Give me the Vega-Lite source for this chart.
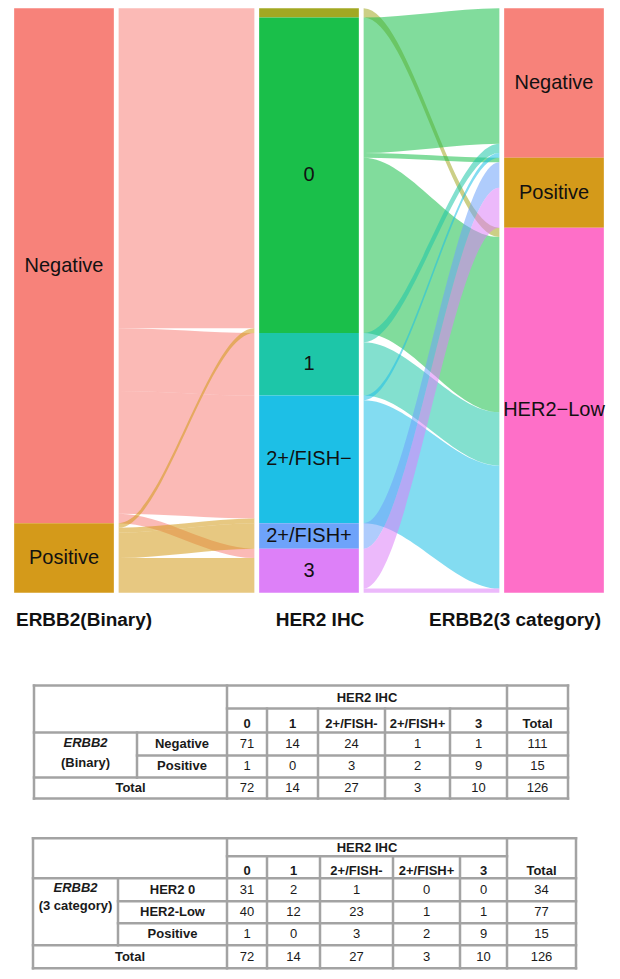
{
  "$schema": "https://vega.github.io/schema/vega-lite/v6.json",
  "background": "white",
  "padding": {"left": 10, "top": 8.3, "right": 0, "bottom": 0},
  "autosize": {"type": "pad"},
  "bounds": "flush",
  "spacing": 0,
  "config": {"view": {"stroke": null}, "font": "Liberation Sans"},
  "datasets": {
    "strata": [
      {"axis": 1, "cat": "Negative", "y0": 0, "y1": 111},
      {"axis": 1, "cat": "Positive", "y0": 111, "y1": 126},
      {"axis": 2, "cat": "0*", "y0": 0, "y1": 2},
      {"axis": 2, "cat": "0", "y0": 2, "y1": 70},
      {"axis": 2, "cat": "1", "y0": 70, "y1": 83.5},
      {"axis": 2, "cat": "2+/FISH−", "y0": 83.5, "y1": 111},
      {"axis": 2, "cat": "2+/FISH+", "y0": 111, "y1": 116.5},
      {"axis": 2, "cat": "3", "y0": 116.5, "y1": 126},
      {"axis": 3, "cat": "Negative", "y0": 0, "y1": 32.2},
      {"axis": 3, "cat": "Positive", "y0": 32.2, "y1": 47.3},
      {"axis": 3, "cat": "HER2−Low", "y0": 47.3, "y1": 126}
    ],
    "flows": [
      {"id": "f1", "cat": "Negative", "x": 1.223, "lo": 0, "hi": 69},
      {"id": "f1", "cat": "Negative", "x": 1.2235, "lo": 0, "hi": 69},
      {"id": "f1", "cat": "Negative", "x": 1.7765, "lo": 0, "hi": 69},
      {"id": "f1", "cat": "Negative", "x": 1.777, "lo": 0, "hi": 69},
      {"id": "f2", "cat": "Negative", "x": 1.223, "lo": 69, "hi": 82.5},
      {"id": "f2", "cat": "Negative", "x": 1.2235, "lo": 69, "hi": 82.5},
      {"id": "f2", "cat": "Negative", "x": 1.7765, "lo": 70, "hi": 83.5},
      {"id": "f2", "cat": "Negative", "x": 1.777, "lo": 70, "hi": 83.5},
      {"id": "f3", "cat": "Negative", "x": 1.223, "lo": 82.5, "hi": 109},
      {"id": "f3", "cat": "Negative", "x": 1.2235, "lo": 82.5, "hi": 109},
      {"id": "f3", "cat": "Negative", "x": 1.7765, "lo": 83.5, "hi": 110},
      {"id": "f3", "cat": "Negative", "x": 1.777, "lo": 83.5, "hi": 110},
      {"id": "f5", "cat": "Negative", "x": 1.223, "lo": 109, "hi": 111},
      {"id": "f5", "cat": "Negative", "x": 1.2235, "lo": 109, "hi": 111},
      {"id": "f5", "cat": "Negative", "x": 1.7765, "lo": 116.5, "hi": 118.5},
      {"id": "f5", "cat": "Negative", "x": 1.777, "lo": 116.5, "hi": 118.5},
      {"id": "f6", "cat": "Positive", "x": 1.223, "lo": 111, "hi": 112},
      {"id": "f6", "cat": "Positive", "x": 1.2235, "lo": 111, "hi": 112},
      {"id": "f6", "cat": "Positive", "x": 1.7765, "lo": 69, "hi": 70},
      {"id": "f6", "cat": "Positive", "x": 1.777, "lo": 69, "hi": 70},
      {"id": "f7", "cat": "Positive", "x": 1.223, "lo": 112, "hi": 113},
      {"id": "f7", "cat": "Positive", "x": 1.2235, "lo": 112, "hi": 113},
      {"id": "f7", "cat": "Positive", "x": 1.7765, "lo": 110, "hi": 111},
      {"id": "f7", "cat": "Positive", "x": 1.777, "lo": 110, "hi": 111},
      {"id": "f8", "cat": "Positive", "x": 1.223, "lo": 113, "hi": 118.5},
      {"id": "f8", "cat": "Positive", "x": 1.2235, "lo": 113, "hi": 118.5},
      {"id": "f8", "cat": "Positive", "x": 1.7765, "lo": 111, "hi": 116.5},
      {"id": "f8", "cat": "Positive", "x": 1.777, "lo": 111, "hi": 116.5},
      {"id": "f9", "cat": "Positive", "x": 1.223, "lo": 118.5, "hi": 126},
      {"id": "f9", "cat": "Positive", "x": 1.2235, "lo": 118.5, "hi": 126},
      {"id": "f9", "cat": "Positive", "x": 1.7765, "lo": 118.5, "hi": 126},
      {"id": "f9", "cat": "Positive", "x": 1.777, "lo": 118.5, "hi": 126},
      {"id": "g1", "cat": "0*", "x": 2.223, "lo": 0, "hi": 2},
      {"id": "g1", "cat": "0*", "x": 2.2235, "lo": 0, "hi": 2},
      {"id": "g1", "cat": "0*", "x": 2.7765, "lo": 47.3, "hi": 49.3},
      {"id": "g1", "cat": "0*", "x": 2.777, "lo": 47.3, "hi": 49.3},
      {"id": "g2", "cat": "0", "x": 2.223, "lo": 2, "hi": 31.2},
      {"id": "g2", "cat": "0", "x": 2.2235, "lo": 2, "hi": 31.2},
      {"id": "g2", "cat": "0", "x": 2.7765, "lo": 0, "hi": 29.2},
      {"id": "g2", "cat": "0", "x": 2.777, "lo": 0, "hi": 29.2},
      {"id": "g3", "cat": "0", "x": 2.223, "lo": 31.2, "hi": 32.2},
      {"id": "g3", "cat": "0", "x": 2.2235, "lo": 31.2, "hi": 32.2},
      {"id": "g3", "cat": "0", "x": 2.7765, "lo": 32.2, "hi": 33.2},
      {"id": "g3", "cat": "0", "x": 2.777, "lo": 32.2, "hi": 33.2},
      {"id": "g4", "cat": "0", "x": 2.223, "lo": 32.2, "hi": 70},
      {"id": "g4", "cat": "0", "x": 2.2235, "lo": 32.2, "hi": 70},
      {"id": "g4", "cat": "0", "x": 2.7765, "lo": 49.3, "hi": 87.1},
      {"id": "g4", "cat": "0", "x": 2.777, "lo": 49.3, "hi": 87.1},
      {"id": "g5", "cat": "1", "x": 2.223, "lo": 70, "hi": 72},
      {"id": "g5", "cat": "1", "x": 2.2235, "lo": 70, "hi": 72},
      {"id": "g5", "cat": "1", "x": 2.7765, "lo": 29.2, "hi": 31.2},
      {"id": "g5", "cat": "1", "x": 2.777, "lo": 29.2, "hi": 31.2},
      {"id": "g6", "cat": "1", "x": 2.223, "lo": 72, "hi": 83.5},
      {"id": "g6", "cat": "1", "x": 2.2235, "lo": 72, "hi": 83.5},
      {"id": "g6", "cat": "1", "x": 2.7765, "lo": 87.1, "hi": 98.6},
      {"id": "g6", "cat": "1", "x": 2.777, "lo": 87.1, "hi": 98.6},
      {"id": "g7", "cat": "2+/FISH−", "x": 2.223, "lo": 83.5, "hi": 84.5},
      {"id": "g7", "cat": "2+/FISH−", "x": 2.2235, "lo": 83.5, "hi": 84.5},
      {"id": "g7", "cat": "2+/FISH−", "x": 2.7765, "lo": 31.2, "hi": 32.2},
      {"id": "g7", "cat": "2+/FISH−", "x": 2.777, "lo": 31.2, "hi": 32.2},
      {"id": "g8", "cat": "2+/FISH−", "x": 2.223, "lo": 84.5, "hi": 111},
      {"id": "g8", "cat": "2+/FISH−", "x": 2.2235, "lo": 84.5, "hi": 111},
      {"id": "g8", "cat": "2+/FISH−", "x": 2.7765, "lo": 98.6, "hi": 125.1},
      {"id": "g8", "cat": "2+/FISH−", "x": 2.777, "lo": 98.6, "hi": 125.1},
      {"id": "g9", "cat": "2+/FISH+", "x": 2.223, "lo": 111, "hi": 116.5},
      {"id": "g9", "cat": "2+/FISH+", "x": 2.2235, "lo": 111, "hi": 116.5},
      {"id": "g9", "cat": "2+/FISH+", "x": 2.7765, "lo": 33.2, "hi": 38.7},
      {"id": "g9", "cat": "2+/FISH+", "x": 2.777, "lo": 33.2, "hi": 38.7},
      {"id": "g10", "cat": "3", "x": 2.223, "lo": 116.5, "hi": 125.1},
      {"id": "g10", "cat": "3", "x": 2.2235, "lo": 116.5, "hi": 125.1},
      {"id": "g10", "cat": "3", "x": 2.7765, "lo": 38.7, "hi": 47.3},
      {"id": "g10", "cat": "3", "x": 2.777, "lo": 38.7, "hi": 47.3},
      {"id": "g11", "cat": "3", "x": 2.223, "lo": 125.1, "hi": 126},
      {"id": "g11", "cat": "3", "x": 2.2235, "lo": 125.1, "hi": 126},
      {"id": "g11", "cat": "3", "x": 2.7765, "lo": 125.1, "hi": 126},
      {"id": "g11", "cat": "3", "x": 2.777, "lo": 125.1, "hi": 126}
    ],
    "axislabels": [
      {"axis": 1, "name": "ERBB2(Binary)"},
      {"axis": 2, "name": "HER2 IHC"},
      {"axis": 3, "name": "ERBB2(3 category)"}
    ],
    "t1grid": [
      {"x": 0, "x2": 534, "y": 0, "y2": 0},
      {"x": 0, "x2": 534, "y": 113, "y2": 113},
      {"x": 0, "x2": 0, "y": 0, "y2": 113},
      {"x": 534, "x2": 534, "y": 0, "y2": 113},
      {"x": 193, "x2": 193, "y": 0, "y2": 113},
      {"x": 103, "x2": 103, "y": 47, "y2": 92},
      {"x": 233, "x2": 233, "y": 23, "y2": 113},
      {"x": 284, "x2": 284, "y": 23, "y2": 113},
      {"x": 351, "x2": 351, "y": 23, "y2": 113},
      {"x": 416, "x2": 416, "y": 23, "y2": 113},
      {"x": 473, "x2": 473, "y": 0, "y2": 113},
      {"x": 193, "x2": 534, "y": 23, "y2": 23},
      {"x": 0, "x2": 534, "y": 47, "y2": 47},
      {"x": 103, "x2": 534, "y": 70, "y2": 70},
      {"x": 0, "x2": 534, "y": 92, "y2": 92}
    ],
    "t1cols": [
      {"c": "A", "xc": 51.5}, {"c": "B", "xc": 148}, {"c": "AB", "xc": 96.5},
      {"c": "0", "xc": 213}, {"c": "1", "xc": 258.5}, {"c": "F-", "xc": 317.5},
      {"c": "F+", "xc": 383.5}, {"c": "3", "xc": 444.5}, {"c": "T", "xc": 503.5},
      {"c": "IHC", "xc": 333}
    ],
    "t1rows": [
      {"r": "h1", "yc": 12}, {"r": "h2", "yc": 38.5}, {"r": "Negative", "yc": 58},
      {"r": "Positive", "yc": 80}, {"r": "Total", "yc": 102.5}, {"r": "g1", "yc": 57}, {"r": "g2", "yc": 77}
    ],
    "t1cells": [
      {"r": "h1", "c": "IHC", "v": "HER2 IHC", "k": "hdr"},
      {"r": "h2", "c": "0", "v": "0", "k": "hdr"},
      {"r": "h2", "c": "1", "v": "1", "k": "hdr"},
      {"r": "h2", "c": "F-", "v": "2+/FISH-", "k": "hdr"},
      {"r": "h2", "c": "F+", "v": "2+/FISH+", "k": "hdr"},
      {"r": "h2", "c": "3", "v": "3", "k": "hdr"},
      {"r": "h2", "c": "T", "v": "Total", "k": "hdr"},
      {"r": "g1", "c": "A", "v": "ERBB2", "k": "gene"},
      {"r": "g2", "c": "A", "v": "(Binary)", "k": "hdr"},
      {"r": "Negative", "c": "B", "v": "Negative", "k": "hdr"},
      {"r": "Positive", "c": "B", "v": "Positive", "k": "hdr"},
      {"r": "Total", "c": "AB", "v": "Total", "k": "hdr"},
      {"r": "Negative", "c": "0", "v": "71", "k": "val"},
      {"r": "Negative", "c": "1", "v": "14", "k": "val"},
      {"r": "Negative", "c": "F-", "v": "24", "k": "val"},
      {"r": "Negative", "c": "F+", "v": "1", "k": "val"},
      {"r": "Negative", "c": "3", "v": "1", "k": "val"},
      {"r": "Negative", "c": "T", "v": "111", "k": "val"},
      {"r": "Positive", "c": "0", "v": "1", "k": "val"},
      {"r": "Positive", "c": "1", "v": "0", "k": "val"},
      {"r": "Positive", "c": "F-", "v": "3", "k": "val"},
      {"r": "Positive", "c": "F+", "v": "2", "k": "val"},
      {"r": "Positive", "c": "3", "v": "9", "k": "val"},
      {"r": "Positive", "c": "T", "v": "15", "k": "val"},
      {"r": "Total", "c": "0", "v": "72", "k": "val"},
      {"r": "Total", "c": "1", "v": "14", "k": "val"},
      {"r": "Total", "c": "F-", "v": "27", "k": "val"},
      {"r": "Total", "c": "F+", "v": "3", "k": "val"},
      {"r": "Total", "c": "3", "v": "10", "k": "val"},
      {"r": "Total", "c": "T", "v": "126", "k": "val"}
    ],
    "t2grid": [
      {"x": 0, "x2": 543, "y": 0, "y2": 0},
      {"x": 0, "x2": 543, "y": 130, "y2": 130},
      {"x": 0, "x2": 0, "y": 0, "y2": 130},
      {"x": 543, "x2": 543, "y": 0, "y2": 130},
      {"x": 194, "x2": 194, "y": 0, "y2": 130},
      {"x": 85, "x2": 85, "y": 40, "y2": 107},
      {"x": 234, "x2": 234, "y": 18, "y2": 130},
      {"x": 287, "x2": 287, "y": 18, "y2": 130},
      {"x": 360, "x2": 360, "y": 18, "y2": 130},
      {"x": 427, "x2": 427, "y": 18, "y2": 130},
      {"x": 474, "x2": 474, "y": 0, "y2": 130},
      {"x": 194, "x2": 474, "y": 18, "y2": 18},
      {"x": 0, "x2": 543, "y": 40, "y2": 40},
      {"x": 85, "x2": 543, "y": 63, "y2": 63},
      {"x": 85, "x2": 543, "y": 85, "y2": 85},
      {"x": 0, "x2": 543, "y": 107, "y2": 107}
    ],
    "t2cols": [
      {"c": "A", "xc": 42.5}, {"c": "B", "xc": 139.5}, {"c": "AB", "xc": 97},
      {"c": "0", "xc": 214}, {"c": "1", "xc": 260.5}, {"c": "F-", "xc": 323.5},
      {"c": "F+", "xc": 393.5}, {"c": "3", "xc": 450.5}, {"c": "T", "xc": 508.5},
      {"c": "IHC", "xc": 334}
    ],
    "t2rows": [
      {"r": "h1", "yc": 10}, {"r": "h2", "yc": 33}, {"r": "HER2 0", "yc": 51.5},
      {"r": "HER2-Low", "yc": 74}, {"r": "Positive", "yc": 96}, {"r": "Total", "yc": 118.5},
      {"r": "g1", "yc": 50}, {"r": "g2", "yc": 68}
    ],
    "t2cells": [
      {"r": "h1", "c": "IHC", "v": "HER2 IHC", "k": "hdr"},
      {"r": "h2", "c": "0", "v": "0", "k": "hdr"},
      {"r": "h2", "c": "1", "v": "1", "k": "hdr"},
      {"r": "h2", "c": "F-", "v": "2+/FISH-", "k": "hdr"},
      {"r": "h2", "c": "F+", "v": "2+/FISH+", "k": "hdr"},
      {"r": "h2", "c": "3", "v": "3", "k": "hdr"},
      {"r": "h2", "c": "T", "v": "Total", "k": "hdr"},
      {"r": "g1", "c": "A", "v": "ERBB2", "k": "gene"},
      {"r": "g2", "c": "A", "v": "(3 category)", "k": "hdr"},
      {"r": "HER2 0", "c": "B", "v": "HER2 0", "k": "hdr"},
      {"r": "HER2-Low", "c": "B", "v": "HER2-Low", "k": "hdr"},
      {"r": "Positive", "c": "B", "v": "Positive", "k": "hdr"},
      {"r": "Total", "c": "AB", "v": "Total", "k": "hdr"},
      {"r": "HER2 0", "c": "0", "v": "31", "k": "val"},
      {"r": "HER2 0", "c": "1", "v": "2", "k": "val"},
      {"r": "HER2 0", "c": "F-", "v": "1", "k": "val"},
      {"r": "HER2 0", "c": "F+", "v": "0", "k": "val"},
      {"r": "HER2 0", "c": "3", "v": "0", "k": "val"},
      {"r": "HER2 0", "c": "T", "v": "34", "k": "val"},
      {"r": "HER2-Low", "c": "0", "v": "40", "k": "val"},
      {"r": "HER2-Low", "c": "1", "v": "12", "k": "val"},
      {"r": "HER2-Low", "c": "F-", "v": "23", "k": "val"},
      {"r": "HER2-Low", "c": "F+", "v": "1", "k": "val"},
      {"r": "HER2-Low", "c": "3", "v": "1", "k": "val"},
      {"r": "HER2-Low", "c": "T", "v": "77", "k": "val"},
      {"r": "Positive", "c": "0", "v": "1", "k": "val"},
      {"r": "Positive", "c": "1", "v": "0", "k": "val"},
      {"r": "Positive", "c": "F-", "v": "3", "k": "val"},
      {"r": "Positive", "c": "F+", "v": "2", "k": "val"},
      {"r": "Positive", "c": "3", "v": "9", "k": "val"},
      {"r": "Positive", "c": "T", "v": "15", "k": "val"},
      {"r": "Total", "c": "0", "v": "72", "k": "val"},
      {"r": "Total", "c": "1", "v": "14", "k": "val"},
      {"r": "Total", "c": "F-", "v": "27", "k": "val"},
      {"r": "Total", "c": "F+", "v": "3", "k": "val"},
      {"r": "Total", "c": "3", "v": "10", "k": "val"},
      {"r": "Total", "c": "T", "v": "126", "k": "val"}
    ]
  },
  "vconcat": [
    {
      "width": 598,
      "height": 584.4,
      "layer": [
        {
          "data": {"name": "flows"},
          "mark": {"type": "area", "interpolate": "monotone", "opacity": 0.55},
          "encoding": {
            "x": {"field": "x", "type": "quantitative", "scale": {"domain": [0.8, 3.2], "nice": false, "zero": false}, "axis": null},
            "y": {"field": "lo", "type": "quantitative", "stack": null, "scale": {"domain": [0, 126], "reverse": true, "nice": false}, "axis": null},
            "y2": {"field": "hi"},
            "detail": {"field": "id"},
            "color": {"field": "cat", "type": "nominal", "legend": null,
              "scale": {"domain": ["Negative", "Positive", "0*", "0", "1", "2+/FISH−", "2+/FISH+", "3", "HER2−Low"],
                        "range": ["#F7827A", "#D49A1A", "#A2A822", "#1ABF4A", "#1DC6A8", "#1DBFE6", "#6EA3FA", "#DD80F8", "#FE6FC8"]}}
          }
        },
        {
          "data": {"name": "strata"},
          "mark": {"type": "bar", "width": 99.7},
          "encoding": {
            "x": {"field": "axis", "type": "quantitative", "scale": {"domain": [0.8, 3.2], "nice": false, "zero": false}, "axis": null},
            "y": {"field": "y0", "type": "quantitative", "scale": {"domain": [0, 126], "reverse": true, "nice": false}, "axis": null},
            "y2": {"field": "y1"},
            "color": {"field": "cat", "type": "nominal", "legend": null}
          }
        },
        {
          "data": {"name": "strata"},
          "transform": [
            {"filter": "datum.cat != '0*'"},
            {"calculate": "(datum.y0 + datum.y1) / 2", "as": "ymid"}
          ],
          "mark": {"type": "text", "fontSize": 20, "font": "Liberation Sans", "color": "#111111", "baseline": "middle", "align": "center"},
          "encoding": {
            "x": {"field": "axis", "type": "quantitative", "scale": {"domain": [0.8, 3.2], "nice": false, "zero": false}, "axis": null},
            "y": {"field": "ymid", "type": "quantitative", "scale": {"domain": [0, 126], "reverse": true, "nice": false}, "axis": null},
            "text": {"field": "cat"}
          }
        },
        {
          "data": {"name": "axislabels"},
          "transform": [{"filter": "datum.axis == 1"}],
          "mark": {"type": "text", "fontSize": 19, "fontWeight": "bold", "font": "Liberation Sans", "color": "#111111", "baseline": "alphabetic", "align": "left", "dx": -48},
          "encoding": {
            "x": {"field": "axis", "type": "quantitative", "scale": {"domain": [0.8, 3.2], "nice": false, "zero": false}, "axis": null},
            "y": {"datum": 133.2, "type": "quantitative", "scale": {"domain": [0, 126], "reverse": true, "nice": false}, "axis": null},
            "text": {"field": "name"}
          }
        },
        {
          "data": {"name": "axislabels"},
          "transform": [{"filter": "datum.axis == 2"}],
          "mark": {"type": "text", "fontSize": 19, "fontWeight": "bold", "font": "Liberation Sans", "color": "#111111", "baseline": "alphabetic", "align": "center", "dx": 11},
          "encoding": {
            "x": {"field": "axis", "type": "quantitative", "scale": {"domain": [0.8, 3.2], "nice": false, "zero": false}, "axis": null},
            "y": {"datum": 133.2, "type": "quantitative", "scale": {"domain": [0, 126], "reverse": true, "nice": false}, "axis": null},
            "text": {"field": "name"}
          }
        },
        {
          "data": {"name": "axislabels"},
          "transform": [{"filter": "datum.axis == 3"}],
          "mark": {"type": "text", "fontSize": 19, "fontWeight": "bold", "font": "Liberation Sans", "color": "#111111", "baseline": "alphabetic", "align": "right", "dx": 47},
          "encoding": {
            "x": {"field": "axis", "type": "quantitative", "scale": {"domain": [0.8, 3.2], "nice": false, "zero": false}, "axis": null},
            "y": {"datum": 133.2, "type": "quantitative", "scale": {"domain": [0, 126], "reverse": true, "nice": false}, "axis": null},
            "text": {"field": "name"}
          }
        }
      ]
    },
    {
      "width": 600,
      "height": 223.3,
      "layer": [
        {
          "data": {"name": "t1grid"},
          "mark": {"type": "rule", "color": "#a3a3a3", "strokeWidth": 2.5, "strokeCap": "square"},
          "encoding": {
            "x": {"field": "x", "type": "quantitative", "scale": {"domain": [-24, 576], "nice": false, "zero": false}, "axis": null},
            "x2": {"field": "x2"},
            "y": {"field": "y", "type": "quantitative", "scale": {"domain": [-92.3, 131], "reverse": true, "nice": false, "zero": false}, "axis": null},
            "y2": {"field": "y2"}
          }
        },
        {
          "data": {"name": "t1cells"},
          "transform": [
            {"lookup": "c", "from": {"data": {"name": "t1cols"}, "key": "c", "fields": ["xc"]}},
            {"lookup": "r", "from": {"data": {"name": "t1rows"}, "key": "r", "fields": ["yc"]}}
          ],
          "encoding": {
            "x": {"field": "xc", "type": "quantitative", "scale": {"domain": [-24, 576], "nice": false, "zero": false}, "axis": null},
            "y": {"field": "yc", "type": "quantitative", "scale": {"domain": [-92.3, 131], "reverse": true, "nice": false, "zero": false}, "axis": null},
            "text": {"field": "v"}
          },
          "layer": [
            {"transform": [{"filter": "datum.k == 'hdr'"}], "mark": {"type": "text", "fontSize": 13, "fontWeight": "bold", "font": "Liberation Sans", "color": "#1a1a1a", "baseline": "middle", "align": "center"}},
            {"transform": [{"filter": "datum.k == 'gene'"}], "mark": {"type": "text", "fontSize": 13, "fontWeight": "bold", "fontStyle": "italic", "font": "Liberation Sans", "color": "#1a1a1a", "baseline": "middle", "align": "center"}},
            {"transform": [{"filter": "datum.k == 'val'"}], "mark": {"type": "text", "fontSize": 13, "font": "Liberation Sans", "color": "#1a1a1a", "baseline": "middle", "align": "center"}}
          ]
        }
      ]
    },
    {
      "width": 600,
      "height": 163,
      "layer": [
        {
          "data": {"name": "t2grid"},
          "mark": {"type": "rule", "color": "#a3a3a3", "strokeWidth": 2.5, "strokeCap": "square"},
          "encoding": {
            "x": {"field": "x", "type": "quantitative", "scale": {"domain": [-23, 577], "nice": false, "zero": false}, "axis": null},
            "x2": {"field": "x2"},
            "y": {"field": "y", "type": "quantitative", "scale": {"domain": [-21, 142], "reverse": true, "nice": false, "zero": false}, "axis": null},
            "y2": {"field": "y2"}
          }
        },
        {
          "data": {"name": "t2cells"},
          "transform": [
            {"lookup": "c", "from": {"data": {"name": "t2cols"}, "key": "c", "fields": ["xc"]}},
            {"lookup": "r", "from": {"data": {"name": "t2rows"}, "key": "r", "fields": ["yc"]}}
          ],
          "encoding": {
            "x": {"field": "xc", "type": "quantitative", "scale": {"domain": [-23, 577], "nice": false, "zero": false}, "axis": null},
            "y": {"field": "yc", "type": "quantitative", "scale": {"domain": [-21, 142], "reverse": true, "nice": false, "zero": false}, "axis": null},
            "text": {"field": "v"}
          },
          "layer": [
            {"transform": [{"filter": "datum.k == 'hdr'"}], "mark": {"type": "text", "fontSize": 13, "fontWeight": "bold", "font": "Liberation Sans", "color": "#1a1a1a", "baseline": "middle", "align": "center"}},
            {"transform": [{"filter": "datum.k == 'gene'"}], "mark": {"type": "text", "fontSize": 13, "fontWeight": "bold", "fontStyle": "italic", "font": "Liberation Sans", "color": "#1a1a1a", "baseline": "middle", "align": "center"}},
            {"transform": [{"filter": "datum.k == 'val'"}], "mark": {"type": "text", "fontSize": 13, "font": "Liberation Sans", "color": "#1a1a1a", "baseline": "middle", "align": "center"}}
          ]
        }
      ]
    }
  ]
}
